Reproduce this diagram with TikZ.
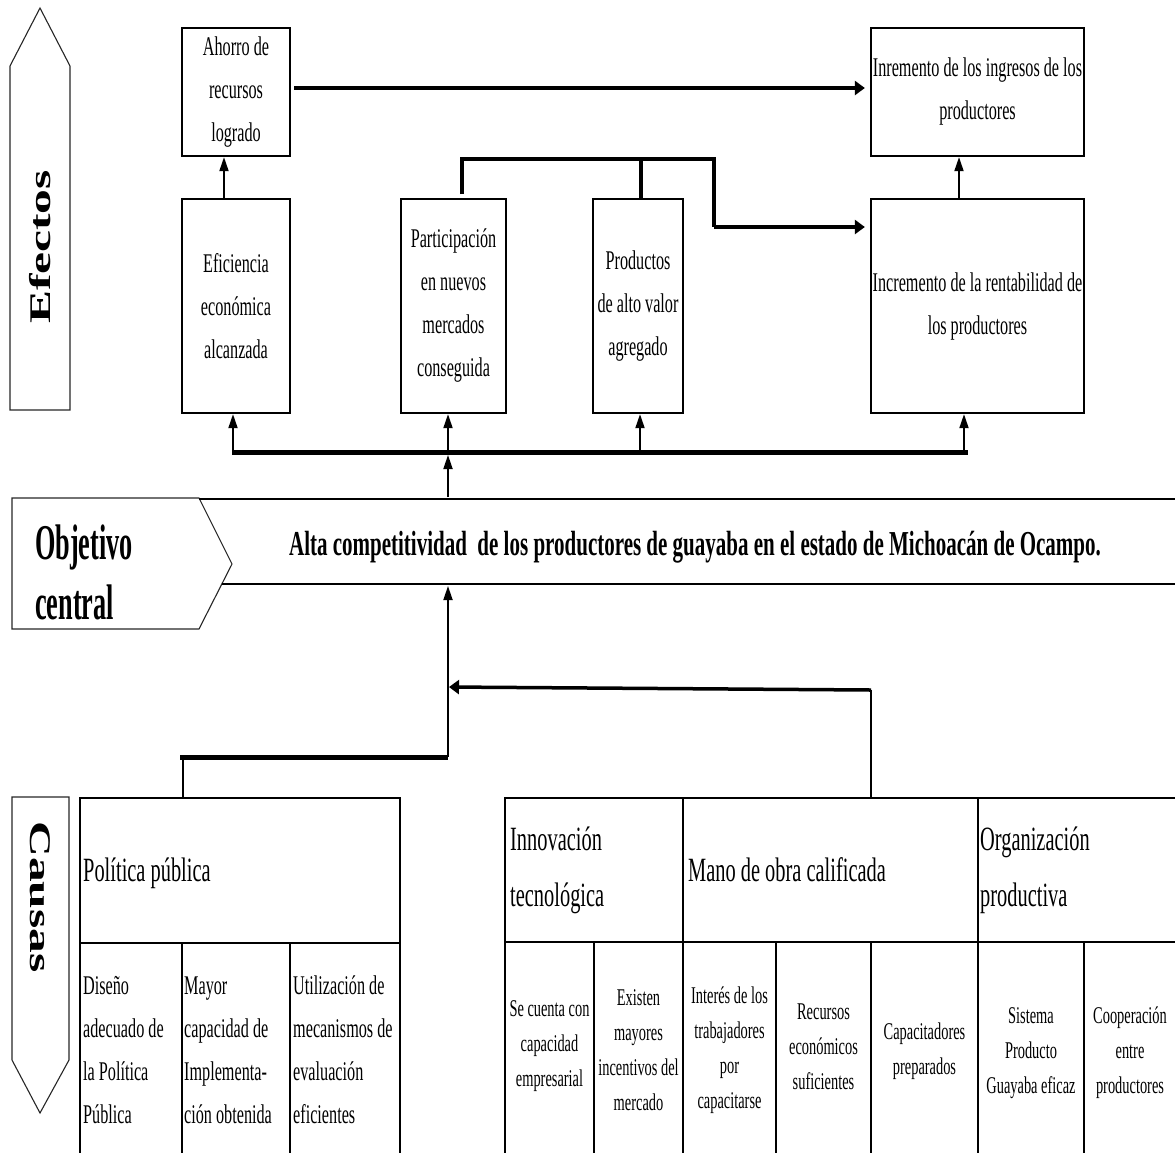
\documentclass[tikz,border=0pt]{standalone}
\usepackage{fontspec}
\setmainfont{Liberation Serif}
\newfontfamily\cndfont[FakeStretch=0.6]{Liberation Serif}
\newfontfamily\objfont[FakeStretch=0.525]{Liberation Serif}
\newfontfamily\sidefont[FakeStretch=1.65]{Liberation Serif}
\usetikzlibrary{arrows.meta}

\begin{document}
\begin{tikzpicture}[x=1pt,y=-1pt,
  box/.style={draw, line width=2.3pt, inner sep=0pt, align=center,
    font=\cndfont\fontsize{27}{43}\selectfont},
  arr/.style={line width=1.8pt, -{Triangle[length=14pt,width=9pt]}},
  bigarr/.style={line width=3.5pt, -{Triangle[length=10pt,width=14pt]}},
  link/.style={line width=3.2pt},
  bar/.style={line width=5pt},
  band/.style={line width=2.8pt},
  grid/.style={line width=2.3pt},
  outline/.style={draw=black!85, line width=1.1pt},
  headtxt/.style={inner sep=0pt, align=left, anchor=west,
    font=\cndfont\fontsize{34}{56}\selectfont},
  celltxt/.style={inner sep=0pt, align=left, anchor=west,
    font=\cndfont\fontsize{27}{43}\selectfont},
  smalltxt/.style={inner sep=0pt, align=center,
    font=\cndfont\fontsize{24}{35}\selectfont},
  sidelabel/.style={inner sep=0pt, font=\sidefont\bfseries\fontsize{30}{30}\selectfont}
]
\useasboundingbox (0,0) rectangle (1175,1152);
\clip (0,0) rectangle (1175,1152);

% ---------- side arrows ----------
\draw[outline] (10,410) -- (10,66) -- (40,8) -- (70,66) -- (70,410) -- cycle;
\node[sidelabel, rotate=90] (efectos) at (40,247) {Efectos};
\draw[outline] (12,797) -- (69,797) -- (69,1060) -- (40,1113) -- (12,1060) -- cycle;
\node[sidelabel, rotate=-90] (causas) at (40,897) {Causas};

% ---------- effects ----------
\node[box, minimum width=108pt, minimum height=128pt] (ahorro) at (236,92) {Ahorro de\\recursos\\logrado};
\node[box, minimum width=213pt, minimum height=128pt] (inrem) at (977.5,92) {Inremento de los ingresos de los\\productores};
\node[box, minimum width=108pt, minimum height=214pt] (efic) at (236,306) {Eficiencia\\económica\\alcanzada};
\node[box, minimum width=105pt, minimum height=214pt] (part) at (453.5,306) {Participación\\en nuevos\\mercados\\conseguida};
\node[box, minimum width=90pt, minimum height=214pt] (prod) at (638,306) {Productos\\de alto valor\\agregado};
\node[box, minimum width=213pt, minimum height=214pt] (rent) at (977.5,306) {Incremento de la rentabilidad de\\los productores};

\draw[bigarr, shorten >=5pt] ([xshift=3pt,yshift=4pt]ahorro.east) -- ([yshift=4pt]inrem.west);
\draw[arr] ([xshift=-12pt]efic.north) -- ([xshift=-12pt]ahorro.south);
\draw[arr] ([xshift=-18.5pt]rent.north) -- ([xshift=-18.5pt]inrem.south);

\coordinate (j0) at (462,194);
\coordinate (j1) at (462,159);
\coordinate (j2) at (714,159);
\coordinate (j3) at (714,227);
\draw[link] (j0) -- (j1) -- (j2) -- (j3);
\draw[bigarr, shorten >=5pt] (j3) -- (j3 -| rent.west);
\coordinate (pj) at (641,160);
\draw[link] (pj |- prod.north) -- (pj);

% collector bar under the effects
\coordinate (barL) at (232,452);
\coordinate (barR) at (968,452);
\coordinate (b1) at (233,452);
\coordinate (b2) at (448,452);
\coordinate (b3) at (640,452);
\coordinate (b4) at (964,452);
\draw[bar] (barL) -- (barR);
\draw[arr] (b1) -- (b1 |- efic.south);
\draw[arr] (b2) -- (b2 |- part.south);
\draw[arr] (b3) -- (b3 |- prod.south);
\draw[arr] (b4) -- (b4 |- rent.south);

% ---------- central objective ----------
\draw[outline] (12,498) -- (199,498) -- (232,564) -- (199,629) -- (12,629) -- cycle;
\node[inner sep=0pt, align=left, anchor=west,
  font=\objfont\bfseries\fontsize{50}{60}\selectfont] (objlabel) at (35,572) {Objetivo\\central};
\draw[band] (199,499) -- (1180,499);
\draw[band] (222,584) -- (1180,584);
\node[inner sep=0pt, font=\cndfont\bfseries\fontsize{35}{40}\selectfont] (goal) at (695,547)
  {Alta competitividad\ \ de los productores de guayaba en el estado de Michoacán de Ocampo.};
\coordinate (goalT) at (448,497);
\coordinate (goalB) at (448,586);
\draw[arr, shorten >=3pt] (goalT) -- (b2);

% ---------- causes connectors ----------
\coordinate (poltop) at (183,798);
\coordinate (lbar) at (180,757);
\coordinate (mid) at (448,757);
\coordinate (rtop) at (871,798);
\coordinate (rk) at (871,690);
\coordinate (ak) at (448,687);
\draw[line width=2pt] (poltop) -- (poltop |- lbar);
\draw[bar] (lbar) -- (mid);
\draw[arr] (mid) -- (goalB);
\draw[line width=2pt] (rtop) -- (rk);
\draw[bigarr, shorten >=1pt] (rk) -- (ak);

% ---------- causes: public policy table ----------
\draw[grid] (80,1160) -- (80,798) -- (400,798) -- (400,1160);
\draw[grid] (80,943) -- (400,943);
\draw[grid] (182,943) -- (182,1160);
\draw[grid] (290,943) -- (290,1160);
\node[headtxt] (polhead) at (83,873) {Política pública};
\node[celltxt] (pol1) at (83,1050) {Diseño\\adecuado de\\la Política\\Pública};
\node[celltxt] (pol2) at (184,1050) {Mayor\\capacidad de\\Implementa-\\ción obtenida};
\node[celltxt] (pol3) at (293,1050) {Utilización de\\mecanismos de\\evaluación\\eficientes};

% ---------- causes: right table ----------
\draw[grid] (505,1160) -- (505,798) -- (1180,798);
\draw[grid] (505,942) -- (1180,942);
\draw[grid] (683,798) -- (683,1160);
\draw[grid] (978,798) -- (978,1160);
\foreach \x in {594,776,871,1084} \draw[grid] (\x,942) -- (\x,1160);
\node[headtxt] (innov) at (510,870) {Innovación\\tecnológica};
\node[headtxt] (mano) at (688,870) {Mano de obra calificada};
\node[headtxt] (orga) at (980,870) {Organización\\productiva};

\node[smalltxt] (c1) at (549.5,1046) {Se cuenta con\\capacidad\\empresarial};
\node[smalltxt] (c2) at (638.5,1050) {Existen\\mayores\\incentivos del\\mercado};
\node[smalltxt] (c3) at (729.5,1050) {Interés de los\\trabajadores\\por\\capacitarse};
\node[smalltxt] (c4) at (823.5,1047) {Recursos\\económicos\\suficientes};
\node[smalltxt] (c5) at (924.5,1051) {Capacitadores\\preparados};
\node[smalltxt] (c6) at (1031,1053) {Sistema\\Producto\\Guayaba eficaz};
\node[smalltxt] (c7) at (1130,1053) {Cooperación\\entre\\productores};
\end{tikzpicture}
\end{document}
